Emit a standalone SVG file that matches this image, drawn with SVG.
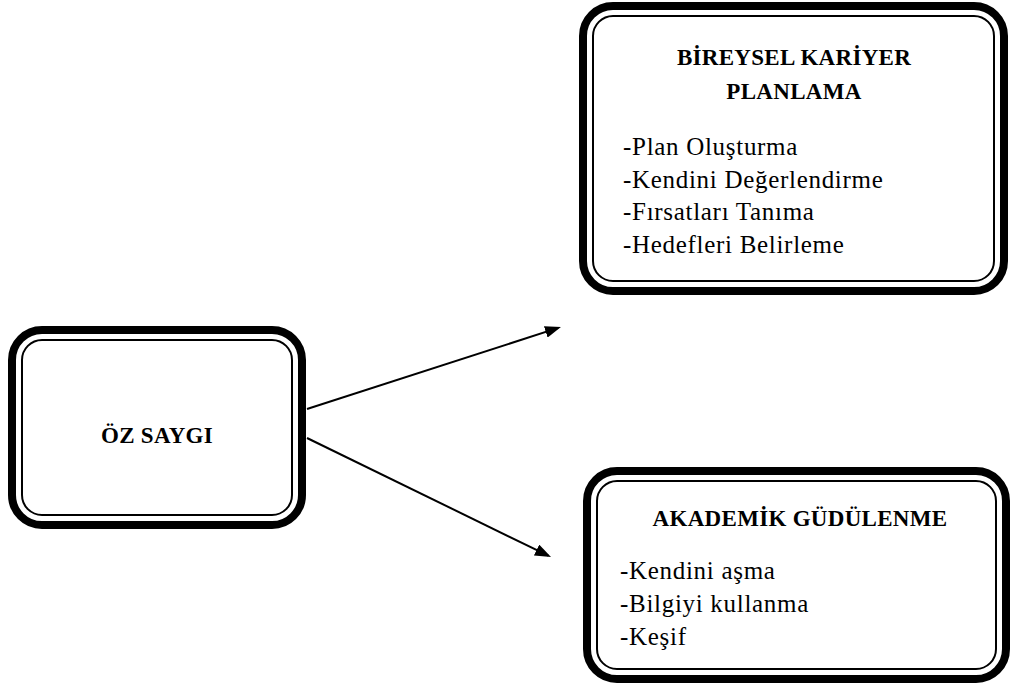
<svg xmlns="http://www.w3.org/2000/svg" width="1011" height="686" viewBox="0 0 1011 686">
<style>
.outer{fill:#fff;stroke:#000;stroke-width:8}
.inner{fill:none;stroke:#000;stroke-width:2}
.head{font-family:"Liberation Serif","Times New Roman",serif;font-weight:bold;font-size:23px;letter-spacing:0.3px;text-anchor:middle;fill:#000}
.body{font-family:"Liberation Serif","Times New Roman",serif;font-size:25px;letter-spacing:0.7px;fill:#000}
.conn{stroke:#000;stroke-width:2;fill:none}
</style>
<defs>
<marker id="arrow" viewBox="0 0 16 12" refX="13" refY="6" markerWidth="16" markerHeight="12" markerUnits="userSpaceOnUse" orient="auto">
<path d="M0,0 L16,6 L0,12 z" fill="#000"/>
</marker>
</defs>
<rect width="1011" height="686" fill="#fff"/>
<g id="connectors">
<line class="conn" x1="307" y1="409" x2="558.1" y2="327.9" marker-end="url(#arrow)"/>
<line class="conn" x1="307" y1="438" x2="548.3" y2="555.7" marker-end="url(#arrow)"/>
</g>
<g id="oz-saygi">
<rect class="outer" x="12" y="330" width="290" height="195" rx="30"/>
<rect class="inner" x="22" y="340" width="270" height="175" rx="20"/>
<text class="head" x="157" y="443">ÖZ SAYGI</text>
</g>
<g id="bireysel-kariyer">
<rect class="outer" x="583" y="6" width="421" height="285" rx="30"/>
<rect class="inner" x="593" y="16" width="401" height="265" rx="20"/>
<text class="head" x="794" y="65">BİREYSEL KARİYER</text>
<text class="head" x="794" y="99">PLANLAMA</text>
<text class="body" x="623" y="155">-Plan Oluşturma</text>
<text class="body" x="623" y="187.5">-Kendini Değerlendirme</text>
<text class="body" x="623" y="220">-Fırsatları Tanıma</text>
<text class="body" x="623" y="252.5">-Hedefleri Belirleme</text>
</g>
<g id="akademik-gudulenme">
<rect class="outer" x="587" y="471" width="419" height="208" rx="30"/>
<rect class="inner" x="597" y="481" width="399" height="188" rx="20"/>
<text class="head" x="800" y="526">AKADEMİK GÜDÜLENME</text>
<text class="body" x="620" y="579">-Kendini aşma</text>
<text class="body" x="620" y="612">-Bilgiyi kullanma</text>
<text class="body" x="620" y="645">-Keşif</text>
</g>
</svg>
